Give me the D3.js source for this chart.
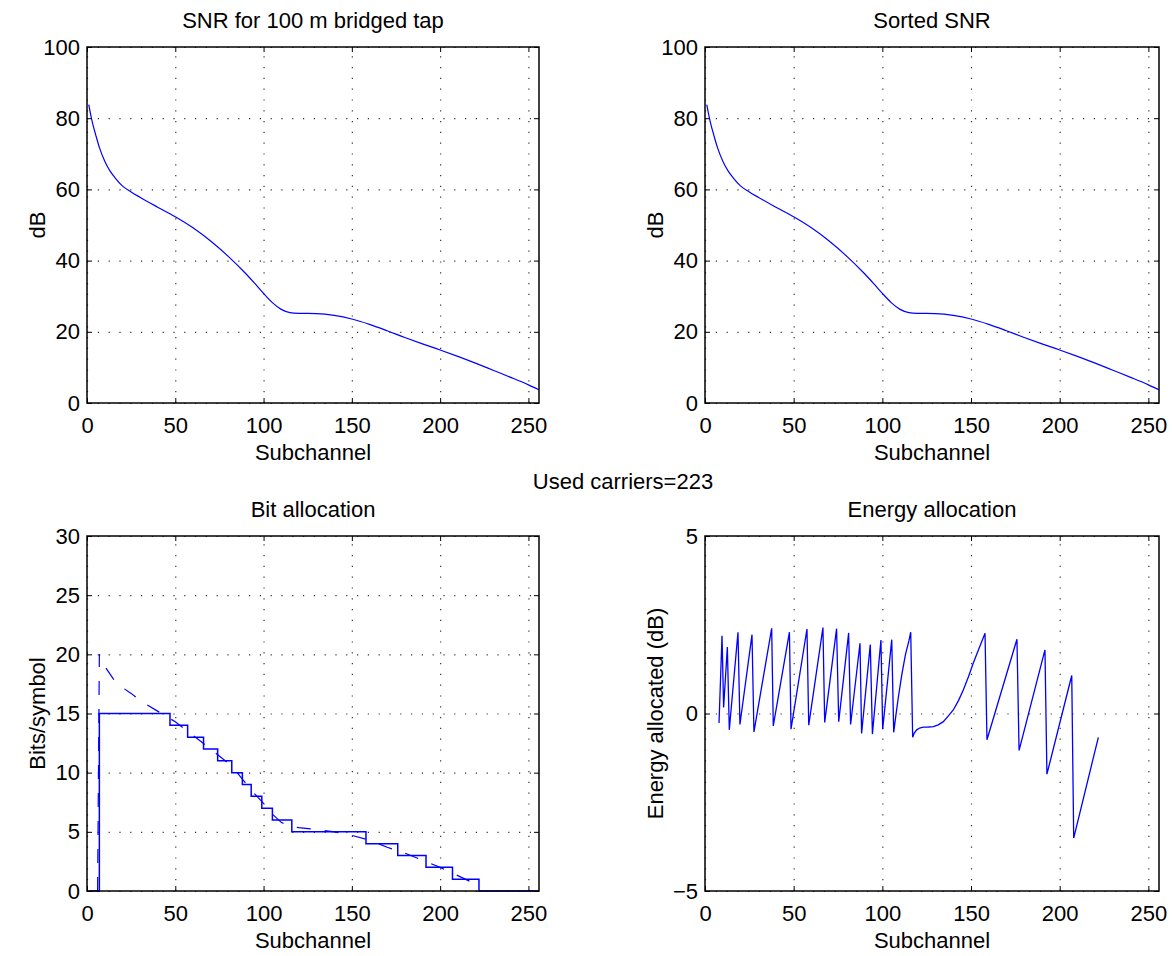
<!DOCTYPE html>
<html>
<head>
<meta charset="utf-8">
<script src="https://cdn.jsdelivr.net/npm/d3@7"></script>
<style>
    body { margin: 0; background: #fff; }
    svg { display: block; }
</style>
</head>
<body>
<svg class="chart"></svg>
<script>
// SNR per subchannel
var snrX  = [1, 2, 3, 5, 7, 10, 13, 16, 20, 25, 30, 40, 50, 60, 70, 80, 90, 95, 100, 105, 110, 115, 120, 130, 140, 150, 160, 170, 180, 190, 200, 210, 220, 230, 240, 250, 256];
var snrDb = [83.8, 81.2, 78.9, 75.2, 71.8, 68.0, 65.2, 63.2, 61.0, 59.3, 57.8, 55.0, 52.3, 49.2, 45.5, 41.2, 36.3, 33.6, 30.8, 28.2, 26.3, 25.4, 25.2, 25.1, 24.6, 23.6, 22.1, 20.3, 18.4, 16.6, 14.9, 13.1, 11.2, 9.2, 7.2, 5.1, 3.7];

// integer bit allocation: level starts at bitStepX[i]
var bitStepX = [1, 7, 47, 57, 66, 74, 82, 88, 93, 99, 105, 116, 158, 176, 192, 207, 222, 256];
var bitLevel = [0, 15, 14, 13, 12, 11, 10, 9, 8, 7, 6, 5, 4, 3, 2, 1, 0, 0];

// non-integer (ideal) bits, dashed
var bitIdealX = [6, 7, 10, 15, 20, 25, 30, 40, 50, 60, 70, 80, 85, 90, 95, 100, 105, 110, 115, 120, 130, 140, 150, 160, 170, 180, 190, 200, 210, 220, 223];
var bitIdeal  = [0, 20, 19.0, 17.9, 17.2, 16.7, 16.1, 15.2, 14.3, 13.15, 12.0, 10.8, 10.0, 9.1, 8.2, 7.4, 6.5, 5.8, 5.45, 5.35, 5.2, 5.0, 4.7, 4.3, 3.7, 3.2, 2.6, 2.0, 1.3, 0.6, 0.35];

// energy allocated per used subchannel (dB)
var energyX  = [7.9, 9.6, 10.5, 12.6, 13.7, 18.6, 19.7, 26.5, 27.6, 37.6, 38.5, 47.6, 48.5, 57.5, 58.5, 66.5, 67.5, 74.2, 75.4, 81.0, 82.1, 87.4, 88.3, 93.2, 94.4, 99.2, 100.2, 105.3, 106.4, 107.5, 109, 111, 113, 115, 116.0,
                117.1, 118, 119.4, 121, 123.1, 126, 128.8, 131.5, 134.4, 137, 140.0, 143, 145.7, 148.5, 151.3, 154.5, 157.9,
                159.0, 175.9, 177.1, 191.7, 192.8, 206.8, 207.9, 221.8];
var energyDb = [-0.27, 2.19, 0.17, 1.87, -0.46, 2.29, -0.31, 2.22, -0.52, 2.40, -0.35, 2.29, -0.44, 2.38, -0.33, 2.42, -0.25, 2.39, -0.23, 2.27, -0.31, 1.98, -0.56, 1.94, -0.58, 2.07, -0.44, 2.08, -0.53, -0.1, 0.45, 1.1, 1.65, 2.05, 2.29,
                -0.67, -0.55, -0.46, -0.41, -0.385, -0.38, -0.37, -0.32, -0.23, -0.08, 0.10, 0.37, 0.67, 1.03, 1.42, 1.83, 2.26,
                -0.74, 2.09, -1.04, 1.79, -1.71, 1.07, -3.51, -0.67];

var xTicks = [0, 50, 100, 150, 200, 250];
var snrTicks = [0, 20, 40, 60, 80, 100];
var bitTicks = [0, 5, 10, 15, 20, 25, 30];
var energyTicks = [-5, 0, 5];

var font = '"Liberation Sans", Arial, Helvetica, sans-serif';
var fontSize = 22;
var blue = '#0000ff';

var svg = d3.select('.chart')
    .attr('width', 1172)
    .attr('height', 956)
    .attr('font-family', font)
    .attr('font-size', fontSize);

function styleAxis(sel) {
    sel.select('.domain').remove();
    sel.attr('font-family', font).attr('font-size', fontSize).attr('color', '#000');
    sel.selectAll('line').attr('stroke-width', 1);
}

function drawPanel(p) {
    var x = d3.scaleLinear().domain([0, 256]).range([p.left, p.right]);
    var y = d3.scaleLinear().domain(p.yDomain).range([p.bottom, p.top]);
    var w = p.right - p.left, h = p.bottom - p.top;
    var g = svg.append('g');

    // dotted grid
    var grid = g.append('g').attr('class', 'grid');
    grid.append('g')
        .attr('transform', 'translate(0,' + p.bottom + ')')
        .call(d3.axisBottom(x).tickValues(xTicks).tickSize(-h).tickFormat(''))
        .call(styleAxis);
    grid.append('g')
        .attr('transform', 'translate(' + p.left + ',0)')
        .call(d3.axisLeft(y).tickValues(p.yTicks).tickSize(-w).tickFormat(''))
        .call(styleAxis);
    grid.selectAll('line')
        .attr('stroke', '#333')
        .attr('stroke-width', 1.2)
        .attr('stroke-dasharray', '1.2,9.6');

    // data
    p.lines.forEach(function(l) {
        var line = d3.line()
            .x(function(d) { return x(d[0]); })
            .y(function(d) { return y(d[1]); })
            .curve(l.curve || d3.curveLinear);
        g.append('path')
            .datum(l.data)
            .attr('fill', 'none')
            .attr('stroke', blue)
            .attr('stroke-width', l.width || 1.2)
            .attr('stroke-dasharray', l.dash || null)
            .attr('d', line);
    });

    // ticks (inside) and labels
    g.append('g')
        .attr('transform', 'translate(0,' + p.bottom + ')')
        .call(d3.axisBottom(x).tickValues(xTicks).tickSizeInner(-5).tickSizeOuter(0).tickPadding(14))
        .call(styleAxis);
    g.append('g')
        .attr('transform', 'translate(0,' + p.top + ')')
        .call(d3.axisTop(x).tickValues(xTicks).tickSizeInner(-5).tickSizeOuter(0).tickFormat(''))
        .call(styleAxis);
    g.append('g')
        .attr('transform', 'translate(' + p.left + ',0)')
        .call(d3.axisLeft(y).tickValues(p.yTicks).tickSizeInner(-5).tickSizeOuter(0).tickPadding(7))
        .call(styleAxis);
    g.append('g')
        .attr('transform', 'translate(' + p.right + ',0)')
        .call(d3.axisRight(y).tickValues(p.yTicks).tickSizeInner(-5).tickSizeOuter(0).tickFormat(''))
        .call(styleAxis);

    g.append('rect')
        .attr('x', p.left).attr('y', p.top)
        .attr('width', w).attr('height', h)
        .attr('fill', 'none')
        .attr('stroke', '#000')
        .attr('stroke-width', 1.5);

    g.append('text')
        .attr('x', (p.left + p.right) / 2)
        .attr('y', p.top - 19)
        .attr('text-anchor', 'middle')
        .text(p.title);
    g.append('text')
        .attr('x', (p.left + p.right) / 2)
        .attr('y', p.bottom + 57)
        .attr('text-anchor', 'middle')
        .text('Subchannel');
    g.append('text')
        .attr('transform', 'translate(' + (p.left - 42) + ',' + ((p.top + p.bottom) / 2) + ') rotate(-90)')
        .attr('text-anchor', 'middle')
        .text(p.yLabel);
}

var snrData = d3.zip(snrX, snrDb);
var sortedSnr = d3.zip(snrX, d3.sort(snrDb, function(a, b) { return b - a; }));

drawPanel({
    left: 87, right: 539, top: 47, bottom: 403,
    yDomain: [0, 100], yTicks: snrTicks,
    title: 'SNR for 100 m bridged tap', yLabel: 'dB',
    lines: [{ data: snrData, curve: d3.curveMonotoneX }]
});

drawPanel({
    left: 705, right: 1159, top: 47, bottom: 403,
    yDomain: [0, 100], yTicks: snrTicks,
    title: 'Sorted SNR', yLabel: 'dB',
    lines: [{ data: sortedSnr, curve: d3.curveMonotoneX }]
});

drawPanel({
    left: 87, right: 539, top: 536, bottom: 891,
    yDomain: [0, 30], yTicks: bitTicks,
    title: 'Bit allocation', yLabel: 'Bits/symbol',
    lines: [
        { data: d3.zip(bitIdealX, bitIdeal), dash: '14,14' },
        { data: d3.zip(bitStepX, bitLevel), curve: d3.curveStepAfter, width: 1.5 }
    ]
});

drawPanel({
    left: 705, right: 1159, top: 536, bottom: 891,
    yDomain: [-5, 5], yTicks: energyTicks,
    title: 'Energy allocation', yLabel: 'Energy allocated (dB)',
    lines: [{ data: d3.zip(energyX, energyDb), width: 1.3 }]
});

svg.append('text')
    .attr('x', 623)
    .attr('y', 489)
    .attr('text-anchor', 'middle')
    .text('Used carriers=223');
</script>
</body>
</html>
